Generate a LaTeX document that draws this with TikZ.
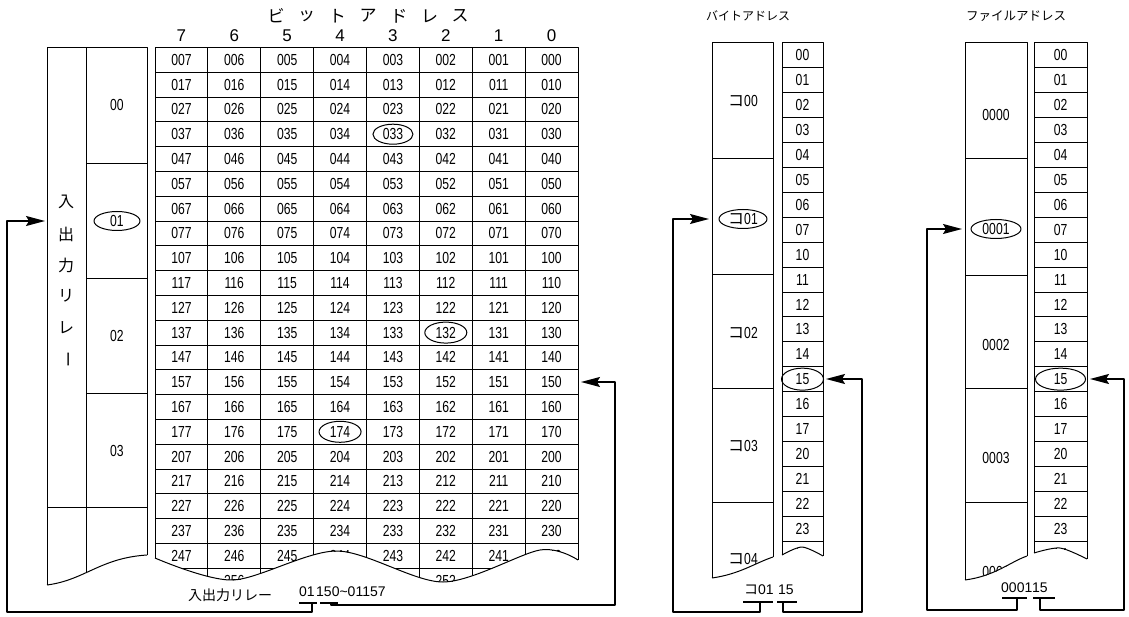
\documentclass[tikz,border=0pt]{standalone}
\usepackage{fontspec}
\setmainfont{Liberation Sans}
\newfontfamily\nar[FakeStretch=0.76]{Liberation Sans}
\newfontfamily\jp{Noto Sans CJK JP}
\usetikzlibrary{arrows.meta,shapes.geometric}
\newcommand\cellfont{\nar\fontsize{16}{17}\selectfont}
\newcommand\jpfont{\jp\fontsize{14}{15}\selectfont}
\newcommand\vfont{\jp\fontsize{16}{17}\selectfont}
\newcommand\hdfont{\fontsize{17}{18}\selectfont}
\newcommand\botfont{\fontsize{14}{15}\selectfont}
\begin{document}
\begin{tikzpicture}[x=1pt,y=-1pt,line join=round,
  gl/.style={line width=0.8pt},
  fr/.style={line width=1pt},
  cellt/.style={font=\cellfont,inner sep=0pt},
  jpt/.style={font=\jpfont,inner sep=0pt},
  vt/.style={font=\vfont,inner sep=0pt},
  hdt/.style={font=\hdfont,inner sep=0pt},
  bott/.style={font=\botfont,inner sep=0pt},
  oval/.style={line width=1pt},
  conn/.style={line width=1.3pt,-{Stealth[length=19pt,width=10pt,inset=3pt]}},
  brk/.style={line width=2.5pt}]
\useasboundingbox (0,0) rectangle (1129,617);

% ---------------- header of bit address
\foreach \c in {0,...,7}{
  \pgfmathtruncatemacro\bb{7-\c}
  \node[hdt] (h\c) at ({155+52.875*(\c+0.5)},36) {\bb};
}
\foreach \ch [count=\i from 0] in {ビ,ッ,ト,ア,ド,レ,ス}
  \node[jpt,font=\jp\fontsize{17}{18}\selectfont] (k\i) at ({276+30.7*\i},16) {\ch};

% ---------------- main grid
\begin{scope}
\clip (155,40) -- plot[smooth] coordinates {(155,558) (233,580) (337,551) (443,582) (540,550) (578,560)} -- (578,40) -- cycle;
\foreach \k in {1,...,21} \draw[gl] (155,{47.4+24.8*\k}) -- (578,{47.4+24.8*\k});
\foreach \c in {1,...,7} \draw[gl] ({155+52.875*\c},47.4) -- ({155+52.875*\c},600);
\foreach \r in {0,...,20}{
  \foreach \c in {0,...,7}{
    \pgfmathtruncatemacro\hi{int(\r/8)}
    \pgfmathtruncatemacro\md{mod(\r,8)}
    \pgfmathtruncatemacro\bb{7-\c}
    \node[cellt] (m-\r-\c) at ({155+52.875*(\c+0.5)},{47.4+24.8*(\r+0.5)}) {\hi\md\bb};
  }
}
\node[cellt] (m-21-1) at ({155+52.875*1.5},{47.4+24.8*21.5}) {256};
\node[cellt] (m-21-5) at ({155+52.875*5.5},{47.4+24.8*21.5}) {252};
\end{scope}
\draw[fr] (155,558) -- (155,47.4) -- (578,47.4) -- (578,560);
\draw[fr] plot[smooth] coordinates {(155,558) (233,580) (337,551) (443,582) (540,550) (578,560)};
\draw[oval] (m-3-4.center) ellipse [x radius=20, y radius=10];
\draw[oval] (m-11-5.center) ellipse [x radius=21, y radius=10.5];
\draw[oval] (m-15-3.center) ellipse [x radius=21, y radius=10.5];

% ---------------- left relay box
\draw[fr] (47,585) -- (47,47.4) -- (147,47.4) -- (147,555);
\draw[fr] (47,585) .. controls (85,580) and (100,558) .. (147,555);
\draw[fr] (86,47.4) -- (86,573);
\draw[gl] (86,163) -- (147,163);
\draw[gl] (86,278) -- (147,278);
\draw[gl] (86,393) -- (147,393);
\draw[fr] (47,507) -- (147,507);
\node[cellt] (l00) at (117,105) {00};
\node[cellt] (l01) at (117,221) {01};
\node[cellt] (l02) at (117,336) {02};
\node[cellt] (l03) at (117,451) {03};
\draw[oval] (l01.center) ellipse [x radius=23, y radius=9.5];
\node[vt] (v1) at (66,202) {入};
\node[vt] (v2) at (66,234) {出};
\node[vt] (v3) at (66,265) {力};
\node[vt] (v4) at (66,296) {リ};
\node[vt] (v5) at (66,328) {レ};
\node[vt,rotate=-90] (v6) at (66,360) {ー};

% bottom label
\node[jpt] (rl) at (230,595) {入出力リレー};
\node[bott,anchor=west] (t01) at (299,592) {01};
\node[bott,anchor=west] (t150) at (316,592) {150\textasciitilde 01157};
\draw[brk] (299,603) -- (317,603);
\draw[brk] (320,603) -- (338,603);
\coordinate (bA) at (312,603);
\coordinate (bB) at (331,603);
\coordinate (cA) at (7,612);
\coordinate (cB) at (615,605);
\coordinate (tA) at (45,221);
\coordinate (tB) at (581,382);
\draw[conn] (bA) |- (cA) |- (tA);
\draw[conn] (bB) |- (cB) |- (tB);

% ---------------- byte address panel
\node[jpt,font=\jp\fontsize{12}{13}\selectfont] (tb) at (748,16) {バイトアドレス};
\begin{scope}
\clip (712,40) -- (712,578) .. controls (740,574) and (755,563) .. (773,557) -- (773,40) -- cycle;
\node[cellt] (b00) at (743,101) {{\jp コ}00};
\node[cellt] (b01) at (743,219) {{\jp コ}01};
\node[cellt] (b02) at (743,333) {{\jp コ}02};
\node[cellt] (b03) at (743,446) {{\jp コ}03};
\node[cellt] (b04) at (743,559) {{\jp コ}04};
\end{scope}
\draw[fr] (712,578) -- (712,43) -- (773,43) -- (773,557);
\draw[fr] (712,578) .. controls (740,574) and (755,563) .. (773,557);
\foreach \yy in {158,274,388,502} \draw[gl] (712,\yy) -- (773,\yy);
\draw[oval] (b01.center) ellipse [x radius=24, y radius=9.5];
\begin{scope}
\clip (782,40) -- plot[smooth] coordinates {(782,555) (802,547) (823,556)} -- (823,40) -- cycle;
\foreach \k in {1,...,21} \draw[gl] (782,{43+24.9*\k}) -- (823,{43+24.9*\k});
\foreach \r in {0,...,20}{
  \pgfmathtruncatemacro\hi{int(\r/8)}
  \pgfmathtruncatemacro\md{mod(\r,8)}
  \node[cellt] (bg-\r) at (802.5,{43+24.9*(\r+0.5)}) {\hi\md};
}
\end{scope}
\draw[fr] (782,555) -- (782,43) -- (823,43) -- (823,556);
\draw[fr] plot[smooth] coordinates {(782,555) (802,547) (823,556)};
\draw[oval] (bg-13.center) ellipse [x radius=21, y radius=11];
\node[bott,anchor=west] (tb01) at (744,590) {{\jp コ}01};
\node[bott,anchor=west] (tb15) at (778,590) {15};
\draw[brk] (743,602) -- (773,602);
\draw[brk] (777,602) -- (797,602);
\coordinate (bC) at (760,602);
\coordinate (bD) at (783,602);
\coordinate (cC) at (673,612);
\coordinate (cD) at (862,612);
\coordinate (tC) at (709,219);
\coordinate (tD) at (826,379);
\draw[conn] (bC) |- (cC) |- (tC);
\draw[conn] (bD) |- (cD) |- (tD);

% ---------------- file address panel
\node[jpt,font=\jp\fontsize{12.5}{13}\selectfont] (tf) at (1016,16) {ファイルアドレス};
\begin{scope}
\clip (965,40) -- (965,580) .. controls (995,576) and (1010,562) .. (1027,556) -- (1027,40) -- cycle;
\node[cellt] (f00) at (996,115) {0000};
\node[cellt] (f01) at (996,229) {0001};
\node[cellt] (f02) at (996,345) {0002};
\node[cellt] (f03) at (996,458) {0003};
\node[cellt] (f04) at (996,572) {0004};
\end{scope}
\draw[fr] (965,580) -- (965,43) -- (1027,43) -- (1027,556);
\draw[fr] (965,580) .. controls (995,576) and (1010,562) .. (1027,556);
\foreach \yy in {158,275,388,502} \draw[gl] (965,\yy) -- (1027,\yy);
\draw[oval] (f01.center) ellipse [x radius=25, y radius=9.5];
\begin{scope}
\clip (1034,40) -- plot[smooth] coordinates {(1034,553) (1060,548) (1087,559)} -- (1087,40) -- cycle;
\foreach \k in {1,...,21} \draw[gl] (1034,{43+24.9*\k}) -- (1087,{43+24.9*\k});
\foreach \r in {0,...,20}{
  \pgfmathtruncatemacro\hi{int(\r/8)}
  \pgfmathtruncatemacro\md{mod(\r,8)}
  \node[cellt] (fg-\r) at (1060.5,{43+24.9*(\r+0.5)}) {\hi\md};
}
\end{scope}
\draw[fr] (1034,553) -- (1034,43) -- (1087,43) -- (1087,559);
\draw[fr] plot[smooth] coordinates {(1034,553) (1060,548) (1087,559)};
\draw[oval] (fg-13.center) ellipse [x radius=25, y radius=11];
\node[bott,anchor=west] (tf01) at (1001,588) {0001};
\node[bott,anchor=west] (tf15) at (1032,588) {15};
\draw[brk] (1002,598) -- (1027,598);
\draw[brk] (1033,598) -- (1055,598);
\coordinate (bE) at (1017,598);
\coordinate (bF) at (1040,598);
\coordinate (cE) at (927,610);
\coordinate (cF) at (1124,610);
\coordinate (tE) at (962,229);
\coordinate (tF) at (1090,379);
\draw[conn] (bE) |- (cE) |- (tE);
\draw[conn] (bF) |- (cF) |- (tF);
\end{tikzpicture}
\end{document}
